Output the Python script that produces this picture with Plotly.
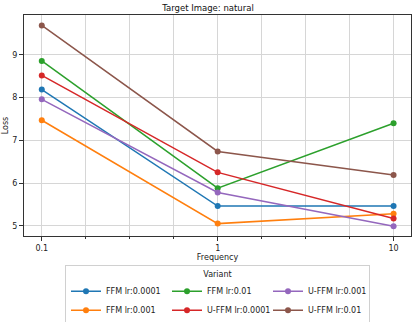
import plotly.graph_objects as go

frequency = [0.1, 1, 10]

variants = ["FFM lr:0.0001", "FFM lr:0.001", "FFM lr:0.01",
            "U-FFM lr:0.0001", "U-FFM lr:0.001", "U-FFM lr:0.01"]
loss = {
    "FFM lr:0.0001": [8.19, 5.46, 5.46],
    "FFM lr:0.001": [7.47, 5.05, 5.28],
    "FFM lr:0.01": [8.86, 5.88, 7.40],
    "U-FFM lr:0.0001": [8.52, 6.25, 5.17],
    "U-FFM lr:0.001": [7.96, 5.78, 4.99],
    "U-FFM lr:0.01": [9.69, 6.74, 6.19],
}
colors = {
    "FFM lr:0.0001": "#1f77b4",
    "FFM lr:0.001": "#ff7f0e",
    "FFM lr:0.01": "#2ca02c",
    "U-FFM lr:0.0001": "#d62728",
    "U-FFM lr:0.001": "#9467bd",
    "U-FFM lr:0.01": "#8c564b",
}
# legend fills row by row in plotly, reorder so it reads column-wise like the original
legend_order = ["FFM lr:0.0001", "FFM lr:0.01", "U-FFM lr:0.001",
                "FFM lr:0.001", "U-FFM lr:0.0001", "U-FFM lr:0.01"]

fig = go.Figure()
for name in variants:
    fig.add_trace(go.Scatter(
        x=frequency, y=loss[name], name=name, mode="lines+markers",
        line=dict(color=colors[name], width=1.5),
        marker=dict(size=6, color=colors[name]),
        legendrank=legend_order.index(name) + 1,
    ))

quarter = [10 ** (k / 4) for k in range(-4, 5)]

fig.update_layout(
    width=416, height=322,
    margin=dict(l=24, r=5, t=15, b=86, autoexpand=False),
    paper_bgcolor="white", plot_bgcolor="white",
    font=dict(family="DejaVu Sans", size=8, color="#222"),
    title=dict(text="Target Image: natural", x=0.5, xanchor="center",
               y=0.985, yanchor="top", font=dict(size=8.5, color="#111")),
    showlegend=True,
    legend=dict(
        orientation="h", x=0.5, xanchor="center",
        yref="container", y=0.176, yanchor="top",
        title=dict(text="Variant", side="top center", font=dict(size=8)),
        bordercolor="#d0d0d0", borderwidth=1, entrywidth=56,
        font=dict(size=8), itemwidth=30, tracegroupgap=0,
    ),
    xaxis=dict(
        type="log", range=[-1.101, 1.099], automargin=False,
        tickvals=[0.1, 1, 10], ticktext=["0.1", "1", "10"],
        ticks="outside", ticklen=4, tickcolor="#333",
        showgrid=True, gridcolor="#d6d6d6", gridwidth=1,
        minor=dict(tickvals=quarter, ticks="outside", ticklen=2, tickcolor="#333",
                   showgrid=True, gridcolor="#d6d6d6", gridwidth=1),
        showline=True, linecolor="#333", linewidth=1, mirror=True,
        zeroline=False,
        title=dict(text="Frequency", standoff=2, font=dict(size=8)),
    ),
    yaxis=dict(
        range=[4.76, 9.935], tickvals=[5, 6, 7, 8, 9], automargin=False,
        ticks="outside", ticklen=4, tickcolor="#333",
        showgrid=True, gridcolor="#d6d6d6", gridwidth=1,
        showline=True, linecolor="#333", linewidth=1, mirror=True,
        zeroline=False,
        title=dict(text="Loss", standoff=2, font=dict(size=8)),
    ),
)

# page body has a default 8px margin, drop it so the figure fills the window
fig.write_html("out.html", config={"displayModeBar": False},
               post_script="document.body.style.margin='0';")
